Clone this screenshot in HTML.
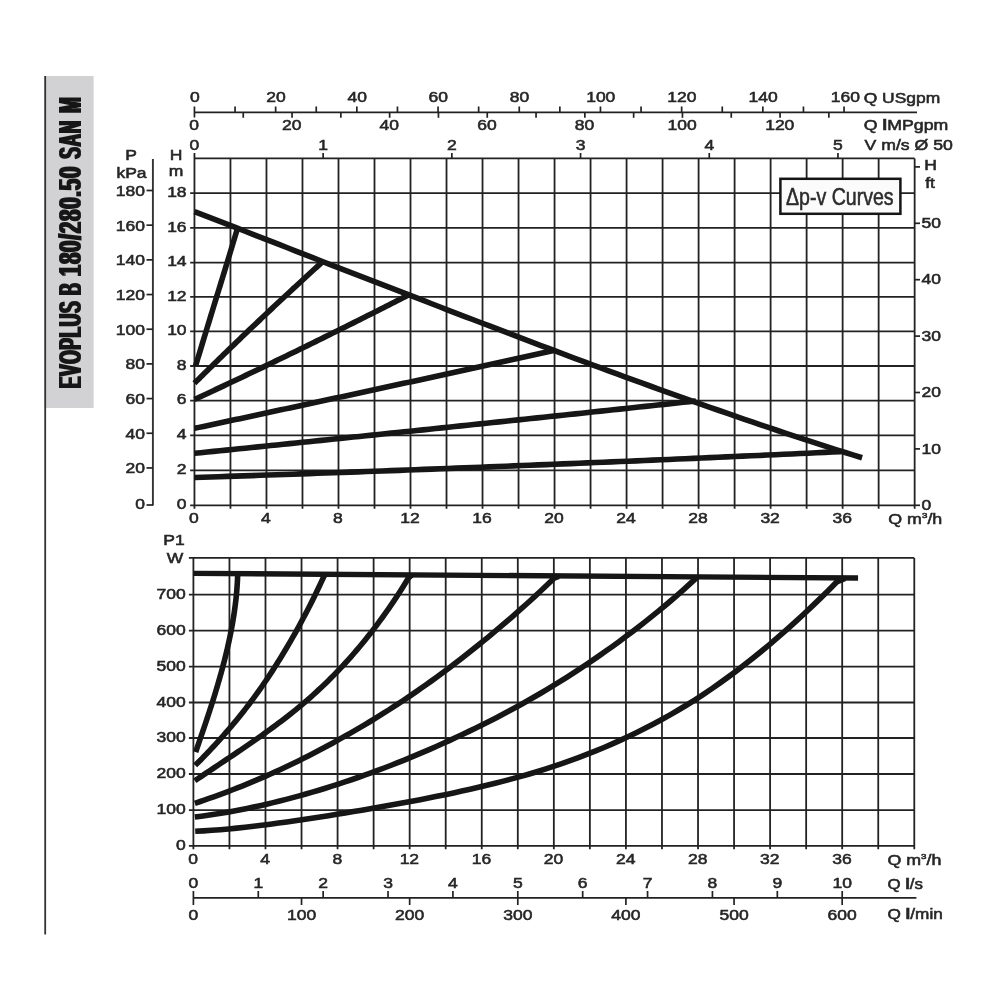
<!DOCTYPE html>
<html><head><meta charset="utf-8"><title>EVOPLUS B 180/280.50 SAN M</title>
<style>
html,body{margin:0;padding:0;background:#fff;}
body{width:1000px;height:1000px;overflow:hidden;}
svg{display:block;font-family:"Liberation Sans",sans-serif;filter:blur(0.45px);}
</style></head><body>
<svg width="1000" height="1000" viewBox="0 0 1000 1000">
<rect width="1000" height="1000" fill="#ffffff"/>
<rect x="44.4" y="76" width="49.2" height="332" fill="#d2d2d4"/>
<line x1="45.20" y1="76.00" x2="45.20" y2="934.50" stroke="#333" stroke-width="1.8" />
<defs><filter id="fat" x="-10%" y="-2%" width="120%" height="104%"><feMorphology operator="dilate" radius="0 1"/></filter></defs>
<g filter="url(#fat)"><text transform="translate(80.8,388.3) rotate(-90)" font-size="31.5" font-weight="bold" fill="#141414" letter-spacing="1.2"><tspan x="0" textLength="87.5" lengthAdjust="spacingAndGlyphs">EVOPLUS</tspan> <tspan x="93.4" textLength="12.4" lengthAdjust="spacingAndGlyphs">B</tspan> <tspan x="112" textLength="110.5" lengthAdjust="spacingAndGlyphs">180/280.50</tspan> <tspan x="229.6" textLength="38.5" lengthAdjust="spacingAndGlyphs">SAN</tspan> <tspan x="275.3" textLength="16.6" lengthAdjust="spacingAndGlyphs">M</tspan></text></g>
<line x1="194.45" y1="152.90" x2="194.45" y2="508.80" stroke="#222222" stroke-width="1.8" />
<line x1="230.46" y1="158.40" x2="230.46" y2="508.80" stroke="#222222" stroke-width="1.8" />
<line x1="266.47" y1="158.40" x2="266.47" y2="508.80" stroke="#222222" stroke-width="1.8" />
<line x1="302.48" y1="158.40" x2="302.48" y2="508.80" stroke="#222222" stroke-width="1.8" />
<line x1="338.49" y1="158.40" x2="338.49" y2="508.80" stroke="#222222" stroke-width="1.8" />
<line x1="374.50" y1="158.40" x2="374.50" y2="508.80" stroke="#222222" stroke-width="1.8" />
<line x1="410.51" y1="158.40" x2="410.51" y2="508.80" stroke="#222222" stroke-width="1.8" />
<line x1="446.52" y1="158.40" x2="446.52" y2="508.80" stroke="#222222" stroke-width="1.8" />
<line x1="482.53" y1="158.40" x2="482.53" y2="508.80" stroke="#222222" stroke-width="1.8" />
<line x1="518.54" y1="158.40" x2="518.54" y2="508.80" stroke="#222222" stroke-width="1.8" />
<line x1="554.55" y1="158.40" x2="554.55" y2="508.80" stroke="#222222" stroke-width="1.8" />
<line x1="590.56" y1="158.40" x2="590.56" y2="508.80" stroke="#222222" stroke-width="1.8" />
<line x1="626.57" y1="158.40" x2="626.57" y2="508.80" stroke="#222222" stroke-width="1.8" />
<line x1="662.58" y1="158.40" x2="662.58" y2="508.80" stroke="#222222" stroke-width="1.8" />
<line x1="698.59" y1="158.40" x2="698.59" y2="508.80" stroke="#222222" stroke-width="1.8" />
<line x1="734.60" y1="158.40" x2="734.60" y2="508.80" stroke="#222222" stroke-width="1.8" />
<line x1="770.61" y1="158.40" x2="770.61" y2="508.80" stroke="#222222" stroke-width="1.8" />
<line x1="806.62" y1="158.40" x2="806.62" y2="508.80" stroke="#222222" stroke-width="1.8" />
<line x1="842.63" y1="158.40" x2="842.63" y2="508.80" stroke="#222222" stroke-width="1.8" />
<line x1="878.64" y1="158.40" x2="878.64" y2="508.80" stroke="#222222" stroke-width="1.8" />
<line x1="914.65" y1="158.40" x2="914.65" y2="508.80" stroke="#222222" stroke-width="1.8" />
<line x1="190.15" y1="505.30" x2="914.65" y2="505.30" stroke="#222222" stroke-width="1.8" />
<line x1="190.15" y1="470.35" x2="914.65" y2="470.35" stroke="#222222" stroke-width="1.8" />
<line x1="190.15" y1="435.40" x2="914.65" y2="435.40" stroke="#222222" stroke-width="1.8" />
<line x1="190.15" y1="400.60" x2="914.65" y2="400.60" stroke="#222222" stroke-width="1.8" />
<line x1="190.15" y1="366.00" x2="914.65" y2="366.00" stroke="#222222" stroke-width="1.8" />
<line x1="190.15" y1="331.35" x2="914.65" y2="331.35" stroke="#222222" stroke-width="1.8" />
<line x1="190.15" y1="296.90" x2="914.65" y2="296.90" stroke="#222222" stroke-width="1.8" />
<line x1="190.15" y1="262.60" x2="914.65" y2="262.60" stroke="#222222" stroke-width="1.8" />
<line x1="190.15" y1="227.80" x2="914.65" y2="227.80" stroke="#222222" stroke-width="1.8" />
<line x1="190.15" y1="193.10" x2="914.65" y2="193.10" stroke="#222222" stroke-width="1.8" />
<line x1="194.45" y1="158.40" x2="914.65" y2="158.40" stroke="#222222" stroke-width="1.8" />
<line x1="193.40" y1="557.90" x2="193.40" y2="849.30" stroke="#222222" stroke-width="1.8" />
<line x1="229.44" y1="557.90" x2="229.44" y2="849.30" stroke="#222222" stroke-width="1.8" />
<line x1="265.49" y1="557.90" x2="265.49" y2="849.30" stroke="#222222" stroke-width="1.8" />
<line x1="301.53" y1="557.90" x2="301.53" y2="849.30" stroke="#222222" stroke-width="1.8" />
<line x1="337.58" y1="557.90" x2="337.58" y2="849.30" stroke="#222222" stroke-width="1.8" />
<line x1="373.62" y1="557.90" x2="373.62" y2="849.30" stroke="#222222" stroke-width="1.8" />
<line x1="409.66" y1="557.90" x2="409.66" y2="849.30" stroke="#222222" stroke-width="1.8" />
<line x1="445.71" y1="557.90" x2="445.71" y2="849.30" stroke="#222222" stroke-width="1.8" />
<line x1="481.75" y1="557.90" x2="481.75" y2="849.30" stroke="#222222" stroke-width="1.8" />
<line x1="517.80" y1="557.90" x2="517.80" y2="849.30" stroke="#222222" stroke-width="1.8" />
<line x1="553.84" y1="557.90" x2="553.84" y2="849.30" stroke="#222222" stroke-width="1.8" />
<line x1="589.88" y1="557.90" x2="589.88" y2="849.30" stroke="#222222" stroke-width="1.8" />
<line x1="625.93" y1="557.90" x2="625.93" y2="849.30" stroke="#222222" stroke-width="1.8" />
<line x1="661.97" y1="557.90" x2="661.97" y2="849.30" stroke="#222222" stroke-width="1.8" />
<line x1="698.02" y1="557.90" x2="698.02" y2="849.30" stroke="#222222" stroke-width="1.8" />
<line x1="734.06" y1="557.90" x2="734.06" y2="849.30" stroke="#222222" stroke-width="1.8" />
<line x1="770.10" y1="557.90" x2="770.10" y2="849.30" stroke="#222222" stroke-width="1.8" />
<line x1="806.15" y1="557.90" x2="806.15" y2="849.30" stroke="#222222" stroke-width="1.8" />
<line x1="842.19" y1="557.90" x2="842.19" y2="849.30" stroke="#222222" stroke-width="1.8" />
<line x1="878.24" y1="557.90" x2="878.24" y2="849.30" stroke="#222222" stroke-width="1.8" />
<line x1="914.28" y1="557.90" x2="914.28" y2="849.30" stroke="#222222" stroke-width="1.8" />
<line x1="188.90" y1="845.80" x2="914.28" y2="845.80" stroke="#222222" stroke-width="1.8" />
<line x1="188.90" y1="810.10" x2="914.28" y2="810.10" stroke="#222222" stroke-width="1.8" />
<line x1="188.90" y1="774.00" x2="914.28" y2="774.00" stroke="#222222" stroke-width="1.8" />
<line x1="188.90" y1="738.00" x2="914.28" y2="738.00" stroke="#222222" stroke-width="1.8" />
<line x1="188.90" y1="702.50" x2="914.28" y2="702.50" stroke="#222222" stroke-width="1.8" />
<line x1="188.90" y1="666.60" x2="914.28" y2="666.60" stroke="#222222" stroke-width="1.8" />
<line x1="188.90" y1="630.60" x2="914.28" y2="630.60" stroke="#222222" stroke-width="1.8" />
<line x1="188.90" y1="594.60" x2="914.28" y2="594.60" stroke="#222222" stroke-width="1.8" />
<line x1="188.90" y1="557.80" x2="914.28" y2="557.80" stroke="#222222" stroke-width="1.8" />
<path d="M194.45,211.63 L202.90,214.88 L211.35,218.14 L219.80,221.41 L228.25,224.68 L236.70,227.96 L245.16,231.25 L253.61,234.54 L262.06,237.84 L270.51,241.15 L278.96,244.45 L287.41,247.76 L295.86,251.07 L304.31,254.38 L312.76,257.70 L321.21,261.01 L329.67,264.31 L338.12,267.58 L346.57,270.85 L355.02,274.12 L363.47,277.38 L371.92,280.65 L380.37,283.92 L388.82,287.18 L397.27,290.45 L405.72,293.71 L414.17,296.97 L422.63,300.23 L431.08,303.50 L439.53,306.76 L447.98,310.02 L456.43,313.27 L464.88,316.52 L473.33,319.76 L481.78,323.00 L490.23,326.23 L498.68,329.45 L507.14,332.68 L515.59,335.91 L524.04,339.13 L532.49,342.34 L540.94,345.55 L549.39,348.74 L557.84,351.93 L566.29,355.11 L574.74,358.27 L583.19,361.43 L591.64,364.58 L600.10,367.71 L608.55,370.83 L617.00,373.94 L625.45,377.04 L633.90,380.12 L642.35,383.19 L650.80,386.25 L659.25,389.30 L667.70,392.33 L676.15,395.34 L684.61,398.35 L693.06,401.34 L701.51,404.33 L709.96,407.30 L718.41,410.26 L726.86,413.20 L735.31,416.12 L743.76,419.03 L752.21,421.92 L760.66,424.79 L769.11,427.64 L777.57,430.47 L786.02,433.29 L794.47,436.08 L802.92,438.87 L811.37,441.64 L819.82,444.38 L828.27,447.11 L836.72,449.81 L845.17,452.49 L853.62,455.15 L862.08,457.79" fill="none" stroke="#161616" stroke-width="5.6" stroke-linejoin="round" stroke-linecap="butt"/>
<path d="M195.53,366.00 L196.06,364.26 L196.59,362.52 L197.12,360.78 L197.65,359.05 L198.17,357.31 L198.70,355.57 L199.23,353.83 L199.76,352.09 L200.29,350.35 L200.82,348.61 L201.35,346.88 L201.88,345.14 L202.40,343.40 L202.93,341.66 L203.46,339.92 L203.99,338.18 L204.52,336.44 L205.05,334.71 L205.58,332.97 L206.11,331.23 L206.63,329.50 L207.16,327.77 L207.69,326.04 L208.22,324.32 L208.75,322.59 L209.28,320.86 L209.81,319.13 L210.34,317.40 L210.86,315.67 L211.39,313.94 L211.92,312.22 L212.45,310.49 L212.98,308.76 L213.51,307.03 L214.04,305.30 L214.57,303.57 L215.09,301.85 L215.62,300.12 L216.15,298.39 L216.68,296.66 L217.21,294.94 L217.74,293.22 L218.27,291.50 L218.80,289.78 L219.32,288.06 L219.85,286.34 L220.38,284.61 L220.91,282.89 L221.44,281.17 L221.97,279.45 L222.50,277.73 L223.03,276.01 L223.55,274.29 L224.08,272.57 L224.61,270.85 L225.14,269.13 L225.67,267.40 L226.20,265.68 L226.73,263.96 L227.26,262.24 L227.78,260.49 L228.31,258.74 L228.84,257.00 L229.37,255.25 L229.90,253.51 L230.43,251.76 L230.96,250.01 L231.49,248.27 L232.01,246.52 L232.54,244.78 L233.07,243.03 L233.60,241.28 L234.13,239.54 L234.66,237.79 L235.19,236.05 L235.72,234.30 L236.24,232.55 L236.77,230.81 L237.30,229.06" fill="none" stroke="#161616" stroke-width="5.6" stroke-linejoin="round" stroke-linecap="butt"/>
<path d="M194.45,383.18 L196.07,381.58 L197.70,379.99 L199.32,378.39 L200.94,376.80 L202.56,375.20 L204.19,373.61 L205.81,372.02 L207.43,370.44 L209.05,368.85 L210.68,367.26 L212.30,365.68 L213.92,364.09 L215.55,362.51 L217.17,360.93 L218.79,359.35 L220.41,357.77 L222.04,356.19 L223.66,354.61 L225.28,353.04 L226.90,351.46 L228.53,349.89 L230.15,348.32 L231.77,346.75 L233.40,345.18 L235.02,343.62 L236.64,342.05 L238.26,340.49 L239.89,338.93 L241.51,337.36 L243.13,335.80 L244.75,334.25 L246.38,332.69 L248.00,331.13 L249.62,329.59 L251.25,328.05 L252.87,326.50 L254.49,324.96 L256.11,323.42 L257.74,321.88 L259.36,320.35 L260.98,318.81 L262.60,317.28 L264.23,315.75 L265.85,314.21 L267.47,312.68 L269.10,311.16 L270.72,309.63 L272.34,308.10 L273.96,306.58 L275.59,305.06 L277.21,303.53 L278.83,302.01 L280.45,300.50 L282.08,298.98 L283.70,297.46 L285.32,295.95 L286.95,294.44 L288.57,292.94 L290.19,291.44 L291.81,289.93 L293.44,288.43 L295.06,286.93 L296.68,285.43 L298.30,283.94 L299.93,282.44 L301.55,280.95 L303.17,279.45 L304.80,277.96 L306.42,276.47 L308.04,274.98 L309.66,273.50 L311.29,272.01 L312.91,270.53 L314.53,269.04 L316.15,267.56 L317.78,266.08 L319.40,264.60 L321.02,263.13 L322.65,261.64" fill="none" stroke="#161616" stroke-width="5.6" stroke-linejoin="round" stroke-linecap="butt"/>
<path d="M194.45,399.47 L197.15,398.22 L199.85,396.96 L202.55,395.71 L205.25,394.45 L207.95,393.19 L210.65,391.93 L213.36,390.67 L216.06,389.40 L218.76,388.14 L221.46,386.87 L224.16,385.60 L226.86,384.33 L229.56,383.05 L232.26,381.78 L234.96,380.50 L237.66,379.22 L240.36,377.94 L243.06,376.66 L245.76,375.38 L248.46,374.09 L251.17,372.81 L253.87,371.52 L256.57,370.23 L259.27,368.94 L261.97,367.64 L264.67,366.35 L267.37,365.05 L270.07,363.75 L272.77,362.45 L275.47,361.14 L278.17,359.84 L280.87,358.53 L283.57,357.22 L286.28,355.91 L288.98,354.59 L291.68,353.28 L294.38,351.96 L297.08,350.65 L299.78,349.33 L302.48,348.00 L305.18,346.68 L307.88,345.36 L310.58,344.03 L313.28,342.70 L315.98,341.37 L318.68,340.04 L321.39,338.70 L324.09,337.37 L326.79,336.03 L329.49,334.69 L332.19,333.35 L334.89,332.01 L337.59,330.67 L340.29,329.33 L342.99,327.99 L345.69,326.65 L348.39,325.31 L351.09,323.96 L353.79,322.62 L356.50,321.27 L359.20,319.92 L361.90,318.57 L364.60,317.21 L367.30,315.86 L370.00,314.50 L372.70,313.14 L375.40,311.78 L378.10,310.42 L380.80,309.06 L383.50,307.69 L386.20,306.32 L388.90,304.95 L391.60,303.58 L394.31,302.21 L397.01,300.84 L399.71,299.46 L402.41,298.08 L405.11,296.71 L407.81,295.33" fill="none" stroke="#161616" stroke-width="5.6" stroke-linejoin="round" stroke-linecap="butt"/>
<path d="M194.45,428.34 L199.00,427.37 L203.54,426.41 L208.09,425.44 L212.64,424.47 L217.18,423.50 L221.73,422.53 L226.28,421.56 L230.82,420.58 L235.37,419.61 L239.92,418.64 L244.47,417.67 L249.01,416.69 L253.56,415.72 L258.11,414.74 L262.65,413.77 L267.20,412.79 L271.75,411.82 L276.29,410.84 L280.84,409.86 L285.39,408.88 L289.93,407.90 L294.48,406.92 L299.03,405.94 L303.57,404.96 L308.12,403.98 L312.67,403.00 L317.21,402.02 L321.76,401.04 L326.31,400.06 L330.85,399.08 L335.40,398.10 L339.95,397.12 L344.50,396.14 L349.04,395.16 L353.59,394.18 L358.14,393.20 L362.68,392.22 L367.23,391.24 L371.78,390.25 L376.32,389.27 L380.87,388.29 L385.42,387.30 L389.96,386.32 L394.51,385.33 L399.06,384.35 L403.60,383.36 L408.15,382.37 L412.70,381.39 L417.24,380.40 L421.79,379.41 L426.34,378.42 L430.89,377.43 L435.43,376.44 L439.98,375.45 L444.53,374.46 L449.07,373.47 L453.62,372.47 L458.17,371.48 L462.71,370.49 L467.26,369.49 L471.81,368.50 L476.35,367.50 L480.90,366.51 L485.45,365.51 L489.99,364.51 L494.54,363.51 L499.09,362.51 L503.63,361.51 L508.18,360.51 L512.73,359.51 L517.28,358.51 L521.82,357.51 L526.37,356.51 L530.92,355.50 L535.46,354.50 L540.01,353.50 L544.56,352.49 L549.10,351.49 L553.65,350.48" fill="none" stroke="#161616" stroke-width="5.6" stroke-linejoin="round" stroke-linecap="butt"/>
<path d="M194.45,453.33 L200.80,452.69 L207.14,452.05 L213.49,451.40 L219.84,450.76 L226.19,450.11 L232.53,449.47 L238.88,448.82 L245.23,448.17 L251.58,447.53 L257.92,446.88 L264.27,446.23 L270.62,445.58 L276.97,444.93 L283.31,444.28 L289.66,443.63 L296.01,442.98 L302.35,442.33 L308.70,441.67 L315.05,441.02 L321.40,440.37 L327.74,439.71 L334.09,439.06 L340.44,438.40 L346.79,437.75 L353.13,437.09 L359.48,436.43 L365.83,435.78 L372.18,435.12 L378.52,434.46 L384.87,433.81 L391.22,433.15 L397.56,432.49 L403.91,431.83 L410.26,431.17 L416.61,430.52 L422.95,429.86 L429.30,429.20 L435.65,428.53 L442.00,427.87 L448.34,427.21 L454.69,426.55 L461.04,425.88 L467.39,425.22 L473.73,424.56 L480.08,423.89 L486.43,423.23 L492.77,422.56 L499.12,421.89 L505.47,421.23 L511.82,420.56 L518.16,419.89 L524.51,419.22 L530.86,418.55 L537.21,417.88 L543.55,417.21 L549.90,416.54 L556.25,415.87 L562.60,415.19 L568.94,414.52 L575.29,413.85 L581.64,413.17 L587.98,412.50 L594.33,411.82 L600.68,411.15 L607.03,410.47 L613.37,409.80 L619.72,409.12 L626.07,408.44 L632.42,407.76 L638.76,407.08 L645.11,406.40 L651.46,405.72 L657.81,405.04 L664.15,404.36 L670.50,403.68 L676.85,403.00 L683.19,402.31 L689.54,401.63 L695.89,400.94" fill="none" stroke="#161616" stroke-width="5.6" stroke-linejoin="round" stroke-linecap="butt"/>
<path d="M194.45,477.50 L202.63,477.23 L210.81,476.96 L219.00,476.69 L227.18,476.42 L235.36,476.14 L243.54,475.87 L251.72,475.59 L259.91,475.31 L268.09,475.03 L276.27,474.74 L284.45,474.46 L292.63,474.18 L300.82,473.89 L309.00,473.60 L317.18,473.31 L325.36,473.02 L333.54,472.72 L341.73,472.43 L349.91,472.13 L358.09,471.84 L366.27,471.54 L374.45,471.24 L382.64,470.94 L390.82,470.63 L399.00,470.33 L407.18,470.02 L415.36,469.71 L423.55,469.40 L431.73,469.09 L439.91,468.78 L448.09,468.47 L456.27,468.15 L464.46,467.83 L472.64,467.52 L480.82,467.20 L489.00,466.87 L497.18,466.55 L505.37,466.23 L513.55,465.90 L521.73,465.57 L529.91,465.24 L538.09,464.91 L546.28,464.58 L554.46,464.25 L562.64,463.91 L570.82,463.58 L579.00,463.24 L587.19,462.90 L595.37,462.56 L603.55,462.22 L611.73,461.87 L619.91,461.53 L628.10,461.18 L636.28,460.83 L644.46,460.48 L652.64,460.13 L660.83,459.78 L669.01,459.43 L677.19,459.07 L685.37,458.71 L693.55,458.35 L701.74,457.99 L709.92,457.63 L718.10,457.27 L726.28,456.91 L734.46,456.54 L742.65,456.17 L750.83,455.80 L759.01,455.43 L767.19,455.06 L775.37,454.69 L783.56,454.31 L791.74,453.93 L799.92,453.56 L808.10,453.18 L816.28,452.80 L824.47,452.41 L832.65,452.03 L840.83,451.64" fill="none" stroke="#161616" stroke-width="5.6" stroke-linejoin="round" stroke-linecap="butt"/>
<path d="M193.40,573.33 L858.05,578.04" fill="none" stroke="#161616" stroke-width="5.4" stroke-linejoin="round" stroke-linecap="butt"/>
<path d="M195.69,752.04 L196.52,749.63 L197.34,747.21 L198.17,744.80 L198.99,742.38 L199.81,739.97 L200.63,737.56 L201.45,735.18 L202.27,732.79 L203.08,730.41 L203.89,728.03 L204.70,725.65 L205.50,723.27 L206.30,720.89 L207.10,718.51 L207.89,716.12 L208.67,713.74 L209.46,711.36 L210.23,708.98 L211.01,706.60 L211.77,704.22 L212.53,701.83 L213.29,699.42 L214.04,697.01 L214.78,694.60 L215.51,692.20 L216.24,689.79 L216.96,687.38 L217.67,684.97 L218.38,682.56 L219.08,680.15 L219.76,677.75 L220.44,675.34 L221.11,672.93 L221.78,670.52 L222.43,668.11 L223.07,665.70 L223.70,663.29 L224.33,660.87 L224.94,658.46 L225.54,656.04 L226.13,653.63 L226.71,651.21 L227.28,648.80 L227.83,646.38 L228.37,643.97 L228.91,641.55 L229.42,639.14 L229.93,636.72 L230.42,634.31 L230.90,631.89 L231.37,629.48 L231.82,627.06 L232.26,624.65 L232.68,622.23 L233.09,619.82 L233.48,617.40 L233.86,614.99 L234.23,612.57 L234.57,610.16 L234.90,607.74 L235.22,605.33 L235.52,602.91 L235.80,600.50 L236.07,598.08 L236.31,595.67 L236.54,593.22 L236.76,590.76 L236.95,588.29 L237.13,585.82 L237.29,583.35 L237.43,580.88 L237.55,578.41 L237.65,575.94 L237.73,574.01" fill="none" stroke="#161616" stroke-width="5.6" stroke-linejoin="round" stroke-linecap="butt"/>
<path d="M195.20,765.38 L197.00,763.59 L198.81,761.79 L200.61,759.97 L202.41,758.13 L204.21,756.28 L206.02,754.41 L207.82,752.52 L209.62,750.61 L211.42,748.69 L213.22,746.75 L215.03,744.79 L216.83,742.81 L218.63,740.81 L220.43,738.79 L222.24,736.77 L224.04,734.74 L225.84,732.69 L227.64,730.61 L229.44,728.52 L231.25,726.40 L233.05,724.26 L234.85,722.10 L236.65,719.91 L238.46,717.70 L240.26,715.47 L242.06,713.21 L243.86,710.93 L245.66,708.62 L247.47,706.29 L249.27,703.93 L251.07,701.53 L252.87,699.09 L254.67,696.63 L256.48,694.13 L258.28,691.61 L260.08,689.06 L261.88,686.48 L263.69,683.87 L265.49,681.23 L267.29,678.56 L269.09,675.85 L270.89,673.12 L272.70,670.36 L274.50,667.56 L276.30,664.73 L278.10,661.86 L279.91,658.96 L281.71,656.03 L283.51,653.06 L285.31,650.05 L287.11,647.02 L288.92,643.94 L290.72,640.84 L292.52,637.69 L294.32,634.51 L296.13,631.29 L297.93,628.04 L299.73,624.75 L301.53,621.42 L303.33,618.05 L305.14,614.64 L306.94,611.20 L308.74,607.71 L310.54,604.19 L312.35,600.62 L314.15,597.02 L315.95,593.34 L317.75,589.57 L319.55,585.76 L321.36,581.90 L323.16,578.00 L324.96,574.63" fill="none" stroke="#161616" stroke-width="5.6" stroke-linejoin="round" stroke-linecap="butt"/>
<path d="M194.84,780.76 L197.73,778.78 L200.62,776.82 L203.51,774.87 L206.40,772.93 L209.29,770.99 L212.18,769.06 L215.07,767.13 L217.96,765.21 L220.86,763.28 L223.75,761.36 L226.64,759.43 L229.53,757.50 L232.42,755.56 L235.31,753.62 L238.20,751.67 L241.09,749.71 L243.98,747.74 L246.87,745.76 L249.76,743.77 L252.65,741.77 L255.54,739.75 L258.43,737.71 L261.32,735.69 L264.21,733.64 L267.10,731.58 L269.99,729.49 L272.88,727.39 L275.77,725.25 L278.66,723.10 L281.55,720.91 L284.44,718.70 L287.33,716.47 L290.22,714.20 L293.11,711.90 L296.00,709.56 L298.89,707.20 L301.79,704.79 L304.68,702.35 L307.57,699.85 L310.46,697.30 L313.35,694.72 L316.24,692.09 L319.13,689.42 L322.02,686.71 L324.91,683.95 L327.80,681.14 L330.69,678.29 L333.58,675.38 L336.47,672.42 L339.36,669.42 L342.25,666.35 L345.14,663.23 L348.03,660.04 L350.92,656.80 L353.81,653.51 L356.70,650.15 L359.59,646.73 L362.48,643.24 L365.37,639.69 L368.26,636.08 L371.15,632.40 L374.04,628.66 L376.93,624.84 L379.83,620.95 L382.72,616.99 L385.61,612.96 L388.50,608.85 L391.39,604.67 L394.28,600.41 L397.17,596.07 L400.06,591.59 L402.95,586.99 L405.84,582.31 L408.73,577.55 L411.62,575.24" fill="none" stroke="#161616" stroke-width="5.6" stroke-linejoin="round" stroke-linecap="butt"/>
<path d="M194.84,803.30 L199.57,801.73 L204.30,800.12 L209.02,798.48 L213.75,796.81 L218.48,795.10 L223.20,793.36 L227.93,791.58 L232.66,789.76 L237.38,787.91 L242.11,786.03 L246.84,784.11 L251.56,782.15 L256.29,780.16 L261.02,778.14 L265.74,776.07 L270.47,773.97 L275.20,771.84 L279.92,769.68 L284.65,767.48 L289.38,765.24 L294.10,762.96 L298.83,760.65 L303.56,758.31 L308.28,755.92 L313.01,753.50 L317.74,751.04 L322.46,748.54 L327.19,746.01 L331.92,743.44 L336.65,740.83 L341.37,738.18 L346.10,735.53 L350.83,732.84 L355.55,730.12 L360.28,727.36 L365.01,724.56 L369.73,721.73 L374.46,718.85 L379.19,715.94 L383.91,712.99 L388.64,710.00 L393.37,706.97 L398.09,703.90 L402.82,700.78 L407.55,697.60 L412.27,694.38 L417.00,691.12 L421.73,687.82 L426.45,684.48 L431.18,681.10 L435.91,677.68 L440.63,674.22 L445.36,670.72 L450.09,667.18 L454.81,663.59 L459.54,659.95 L464.27,656.28 L469.00,652.57 L473.72,648.81 L478.45,645.01 L483.18,641.17 L487.90,637.29 L492.63,633.37 L497.36,629.41 L502.08,625.40 L506.81,621.35 L511.54,617.26 L516.26,613.13 L520.99,608.95 L525.72,604.74 L530.44,600.47 L535.17,596.17 L539.90,591.76 L544.62,587.28 L549.35,582.74 L554.08,578.17 L558.80,576.29" fill="none" stroke="#161616" stroke-width="5.6" stroke-linejoin="round" stroke-linecap="butt"/>
<path d="M194.84,817.03 L201.37,816.19 L207.89,815.28 L214.42,814.31 L220.94,813.26 L227.46,812.16 L233.99,810.99 L240.51,809.75 L247.04,808.45 L253.56,807.08 L260.09,805.65 L266.61,804.17 L273.13,802.62 L279.66,801.02 L286.18,799.36 L292.71,797.64 L299.23,795.87 L305.76,794.05 L312.28,792.17 L318.81,790.23 L325.33,788.24 L331.85,786.20 L338.38,784.11 L344.90,781.96 L351.43,779.76 L357.95,777.51 L364.48,775.21 L371.00,772.85 L377.53,770.45 L384.05,768.00 L390.57,765.50 L397.10,762.94 L403.62,760.33 L410.15,757.67 L416.67,754.96 L423.20,752.19 L429.72,749.37 L436.25,746.50 L442.77,743.57 L449.29,740.59 L455.82,737.55 L462.34,734.50 L468.87,731.40 L475.39,728.24 L481.92,725.02 L488.44,721.74 L494.97,718.40 L501.49,715.01 L508.01,711.55 L514.54,708.03 L521.06,704.45 L527.59,700.79 L534.11,697.04 L540.64,693.22 L547.16,689.34 L553.68,685.39 L560.21,681.36 L566.73,677.27 L573.26,673.10 L579.78,668.86 L586.31,664.53 L592.83,660.12 L599.36,655.63 L605.88,651.06 L612.40,646.41 L618.93,641.67 L625.45,636.85 L631.98,631.94 L638.50,626.94 L645.03,621.84 L651.55,616.66 L658.08,611.37 L664.60,605.99 L671.12,600.51 L677.65,594.92 L684.17,589.11 L690.70,583.19 L697.22,577.27" fill="none" stroke="#161616" stroke-width="5.6" stroke-linejoin="round" stroke-linecap="butt"/>
<path d="M195.20,831.27 L203.53,830.85 L211.86,830.32 L220.20,829.68 L228.53,828.95 L236.86,828.13 L245.19,827.24 L253.52,826.28 L261.85,825.27 L270.18,824.20 L278.51,823.08 L286.85,821.92 L295.18,820.73 L303.51,819.50 L311.84,818.25 L320.17,816.96 L328.50,815.66 L336.83,814.33 L345.16,812.98 L353.49,811.60 L361.83,810.21 L370.16,808.78 L378.49,807.33 L386.82,805.85 L395.15,804.35 L403.48,802.82 L411.81,801.26 L420.14,799.67 L428.48,798.04 L436.81,796.37 L445.14,794.66 L453.47,792.91 L461.80,791.10 L470.13,789.23 L478.46,787.31 L486.79,785.32 L495.12,783.26 L503.46,781.13 L511.79,778.91 L520.12,776.61 L528.45,774.21 L536.78,771.73 L545.11,769.14 L553.44,766.45 L561.77,763.64 L570.11,760.72 L578.44,757.67 L586.77,754.49 L595.10,751.18 L603.43,747.73 L611.76,744.13 L620.09,740.38 L628.42,736.50 L636.75,732.50 L645.09,728.34 L653.42,724.01 L661.75,719.52 L670.08,714.85 L678.41,710.01 L686.74,704.99 L695.07,699.76 L703.40,694.32 L711.74,688.70 L720.07,682.89 L728.40,676.89 L736.73,670.70 L745.06,664.32 L753.39,657.74 L761.72,650.98 L770.05,644.03 L778.38,636.90 L786.72,629.59 L795.05,622.10 L803.38,614.45 L811.71,606.62 L820.04,598.64 L828.37,590.40 L836.70,581.93 L845.03,578.31" fill="none" stroke="#161616" stroke-width="5.6" stroke-linejoin="round" stroke-linecap="butt"/>
<line x1="194.45" y1="112.40" x2="917.00" y2="112.40" stroke="#222222" stroke-width="1.7" />
<line x1="194.45" y1="106.50" x2="194.45" y2="117.50" stroke="#222222" stroke-width="1.7" />
<line x1="235.05" y1="106.50" x2="235.05" y2="112.40" stroke="#222222" stroke-width="1.7" />
<line x1="275.65" y1="106.50" x2="275.65" y2="112.40" stroke="#222222" stroke-width="1.7" />
<line x1="316.25" y1="106.50" x2="316.25" y2="112.40" stroke="#222222" stroke-width="1.7" />
<line x1="356.85" y1="106.50" x2="356.85" y2="112.40" stroke="#222222" stroke-width="1.7" />
<line x1="397.45" y1="106.50" x2="397.45" y2="112.40" stroke="#222222" stroke-width="1.7" />
<line x1="438.05" y1="106.50" x2="438.05" y2="112.40" stroke="#222222" stroke-width="1.7" />
<line x1="478.65" y1="106.50" x2="478.65" y2="112.40" stroke="#222222" stroke-width="1.7" />
<line x1="519.25" y1="106.50" x2="519.25" y2="112.40" stroke="#222222" stroke-width="1.7" />
<line x1="559.85" y1="106.50" x2="559.85" y2="112.40" stroke="#222222" stroke-width="1.7" />
<line x1="600.45" y1="106.50" x2="600.45" y2="112.40" stroke="#222222" stroke-width="1.7" />
<line x1="641.05" y1="106.50" x2="641.05" y2="112.40" stroke="#222222" stroke-width="1.7" />
<line x1="681.65" y1="106.50" x2="681.65" y2="112.40" stroke="#222222" stroke-width="1.7" />
<line x1="722.25" y1="106.50" x2="722.25" y2="112.40" stroke="#222222" stroke-width="1.7" />
<line x1="762.85" y1="106.50" x2="762.85" y2="112.40" stroke="#222222" stroke-width="1.7" />
<line x1="803.45" y1="106.50" x2="803.45" y2="112.40" stroke="#222222" stroke-width="1.7" />
<line x1="844.05" y1="106.50" x2="844.05" y2="112.40" stroke="#222222" stroke-width="1.7" />
<line x1="243.25" y1="112.40" x2="243.25" y2="117.80" stroke="#222222" stroke-width="1.7" />
<line x1="292.05" y1="112.40" x2="292.05" y2="117.80" stroke="#222222" stroke-width="1.7" />
<line x1="340.85" y1="112.40" x2="340.85" y2="117.80" stroke="#222222" stroke-width="1.7" />
<line x1="389.65" y1="112.40" x2="389.65" y2="117.80" stroke="#222222" stroke-width="1.7" />
<line x1="438.45" y1="112.40" x2="438.45" y2="117.80" stroke="#222222" stroke-width="1.7" />
<line x1="487.25" y1="112.40" x2="487.25" y2="117.80" stroke="#222222" stroke-width="1.7" />
<line x1="536.05" y1="112.40" x2="536.05" y2="117.80" stroke="#222222" stroke-width="1.7" />
<line x1="584.85" y1="112.40" x2="584.85" y2="117.80" stroke="#222222" stroke-width="1.7" />
<line x1="633.65" y1="112.40" x2="633.65" y2="117.80" stroke="#222222" stroke-width="1.7" />
<line x1="682.45" y1="112.40" x2="682.45" y2="117.80" stroke="#222222" stroke-width="1.7" />
<line x1="731.25" y1="112.40" x2="731.25" y2="117.80" stroke="#222222" stroke-width="1.7" />
<line x1="780.05" y1="112.40" x2="780.05" y2="117.80" stroke="#222222" stroke-width="1.7" />
<line x1="828.85" y1="112.40" x2="828.85" y2="117.80" stroke="#222222" stroke-width="1.7" />
<text transform="translate(194.75,102.10) scale(1.2,1)" text-anchor="middle" font-size="14.6" fill="#262626" stroke="#262626" stroke-width="0.55" font-weight="normal" >0</text>
<text transform="translate(275.95,102.10) scale(1.2,1)" text-anchor="middle" font-size="14.6" fill="#262626" stroke="#262626" stroke-width="0.55" font-weight="normal" >20</text>
<text transform="translate(357.15,102.10) scale(1.2,1)" text-anchor="middle" font-size="14.6" fill="#262626" stroke="#262626" stroke-width="0.55" font-weight="normal" >40</text>
<text transform="translate(438.35,102.10) scale(1.2,1)" text-anchor="middle" font-size="14.6" fill="#262626" stroke="#262626" stroke-width="0.55" font-weight="normal" >60</text>
<text transform="translate(519.55,102.10) scale(1.2,1)" text-anchor="middle" font-size="14.6" fill="#262626" stroke="#262626" stroke-width="0.55" font-weight="normal" >80</text>
<text transform="translate(600.75,102.10) scale(1.2,1)" text-anchor="middle" font-size="14.6" fill="#262626" stroke="#262626" stroke-width="0.55" font-weight="normal" >100</text>
<text transform="translate(681.95,102.10) scale(1.2,1)" text-anchor="middle" font-size="14.6" fill="#262626" stroke="#262626" stroke-width="0.55" font-weight="normal" >120</text>
<text transform="translate(763.15,102.10) scale(1.2,1)" text-anchor="middle" font-size="14.6" fill="#262626" stroke="#262626" stroke-width="0.55" font-weight="normal" >140</text>
<text transform="translate(845.35,102.10) scale(1.2,1)" text-anchor="middle" font-size="14.6" fill="#262626" stroke="#262626" stroke-width="0.55" font-weight="normal" >160</text>
<text transform="translate(194.15,130.10) scale(1.2,1)" text-anchor="middle" font-size="14.6" fill="#262626" stroke="#262626" stroke-width="0.55" font-weight="normal" >0</text>
<text transform="translate(291.75,130.10) scale(1.2,1)" text-anchor="middle" font-size="14.6" fill="#262626" stroke="#262626" stroke-width="0.55" font-weight="normal" >20</text>
<text transform="translate(389.35,130.10) scale(1.2,1)" text-anchor="middle" font-size="14.6" fill="#262626" stroke="#262626" stroke-width="0.55" font-weight="normal" >40</text>
<text transform="translate(486.95,130.10) scale(1.2,1)" text-anchor="middle" font-size="14.6" fill="#262626" stroke="#262626" stroke-width="0.55" font-weight="normal" >60</text>
<text transform="translate(584.55,130.10) scale(1.2,1)" text-anchor="middle" font-size="14.6" fill="#262626" stroke="#262626" stroke-width="0.55" font-weight="normal" >80</text>
<text transform="translate(682.15,130.10) scale(1.2,1)" text-anchor="middle" font-size="14.6" fill="#262626" stroke="#262626" stroke-width="0.55" font-weight="normal" >100</text>
<text transform="translate(779.75,130.10) scale(1.2,1)" text-anchor="middle" font-size="14.6" fill="#262626" stroke="#262626" stroke-width="0.55" font-weight="normal" >120</text>
<text transform="translate(194.45,149.60) scale(1.2,1)" text-anchor="middle" font-size="14.6" fill="#262626" stroke="#262626" stroke-width="0.55" font-weight="normal" >0</text>
<text transform="translate(323.15,149.60) scale(1.2,1)" text-anchor="middle" font-size="14.6" fill="#262626" stroke="#262626" stroke-width="0.55" font-weight="normal" >1</text>
<line x1="323.15" y1="153.00" x2="323.15" y2="158.40" stroke="#222222" stroke-width="1.7" />
<text transform="translate(451.85,149.60) scale(1.2,1)" text-anchor="middle" font-size="14.6" fill="#262626" stroke="#262626" stroke-width="0.55" font-weight="normal" >2</text>
<line x1="451.85" y1="153.00" x2="451.85" y2="158.40" stroke="#222222" stroke-width="1.7" />
<text transform="translate(580.55,149.60) scale(1.2,1)" text-anchor="middle" font-size="14.6" fill="#262626" stroke="#262626" stroke-width="0.55" font-weight="normal" >3</text>
<line x1="580.55" y1="153.00" x2="580.55" y2="158.40" stroke="#222222" stroke-width="1.7" />
<text transform="translate(709.25,149.60) scale(1.2,1)" text-anchor="middle" font-size="14.6" fill="#262626" stroke="#262626" stroke-width="0.55" font-weight="normal" >4</text>
<line x1="709.25" y1="153.00" x2="709.25" y2="158.40" stroke="#222222" stroke-width="1.7" />
<text transform="translate(837.95,149.60) scale(1.2,1)" text-anchor="middle" font-size="14.6" fill="#262626" stroke="#262626" stroke-width="0.55" font-weight="normal" >5</text>
<line x1="837.95" y1="153.00" x2="837.95" y2="158.40" stroke="#222222" stroke-width="1.7" />
<text x="863.70" y="102.50" textLength="76.50" lengthAdjust="spacingAndGlyphs" font-size="14.6" fill="#262626" stroke="#262626" stroke-width="0.55" font-weight="normal">Q USgpm</text>
<text x="863.70" y="130.40" textLength="84.60" lengthAdjust="spacingAndGlyphs" font-size="14.6" fill="#262626" stroke="#262626" stroke-width="0.55" font-weight="normal">Q <tspan font-weight="bold">l</tspan>MPgpm</text>
<text x="864.60" y="149.80" textLength="88.20" lengthAdjust="spacingAndGlyphs" font-size="14.6" fill="#262626" stroke="#262626" stroke-width="0.55" font-weight="normal">V m/s Ø 50</text>
<line x1="152.90" y1="159.00" x2="152.90" y2="505.60" stroke="#333" stroke-width="1.9" />
<line x1="146.50" y1="505.00" x2="153.00" y2="505.00" stroke="#222222" stroke-width="1.7" />
<text transform="translate(145.00,509.30) scale(1.2,1)" text-anchor="end" font-size="14.6" fill="#262626" stroke="#262626" stroke-width="0.55" font-weight="normal" >0</text>
<line x1="146.50" y1="467.94" x2="153.00" y2="467.94" stroke="#222222" stroke-width="1.7" />
<text transform="translate(145.00,473.44) scale(1.2,1)" text-anchor="end" font-size="14.6" fill="#262626" stroke="#262626" stroke-width="0.55" font-weight="normal" >20</text>
<line x1="146.50" y1="433.26" x2="153.00" y2="433.26" stroke="#222222" stroke-width="1.7" />
<text transform="translate(145.00,438.76) scale(1.2,1)" text-anchor="end" font-size="14.6" fill="#262626" stroke="#262626" stroke-width="0.55" font-weight="normal" >40</text>
<line x1="146.50" y1="398.58" x2="153.00" y2="398.58" stroke="#222222" stroke-width="1.7" />
<text transform="translate(145.00,404.08) scale(1.2,1)" text-anchor="end" font-size="14.6" fill="#262626" stroke="#262626" stroke-width="0.55" font-weight="normal" >60</text>
<line x1="146.50" y1="363.90" x2="153.00" y2="363.90" stroke="#222222" stroke-width="1.7" />
<text transform="translate(145.00,369.40) scale(1.2,1)" text-anchor="end" font-size="14.6" fill="#262626" stroke="#262626" stroke-width="0.55" font-weight="normal" >80</text>
<line x1="146.50" y1="329.22" x2="153.00" y2="329.22" stroke="#222222" stroke-width="1.7" />
<text transform="translate(145.00,334.72) scale(1.2,1)" text-anchor="end" font-size="14.6" fill="#262626" stroke="#262626" stroke-width="0.55" font-weight="normal" >100</text>
<line x1="146.50" y1="294.54" x2="153.00" y2="294.54" stroke="#222222" stroke-width="1.7" />
<text transform="translate(145.00,300.04) scale(1.2,1)" text-anchor="end" font-size="14.6" fill="#262626" stroke="#262626" stroke-width="0.55" font-weight="normal" >120</text>
<line x1="146.50" y1="259.86" x2="153.00" y2="259.86" stroke="#222222" stroke-width="1.7" />
<text transform="translate(145.00,265.36) scale(1.2,1)" text-anchor="end" font-size="14.6" fill="#262626" stroke="#262626" stroke-width="0.55" font-weight="normal" >140</text>
<line x1="146.50" y1="225.18" x2="153.00" y2="225.18" stroke="#222222" stroke-width="1.7" />
<text transform="translate(145.00,230.68) scale(1.2,1)" text-anchor="end" font-size="14.6" fill="#262626" stroke="#262626" stroke-width="0.55" font-weight="normal" >160</text>
<line x1="146.50" y1="190.50" x2="153.00" y2="190.50" stroke="#222222" stroke-width="1.7" />
<text transform="translate(145.00,196.00) scale(1.2,1)" text-anchor="end" font-size="14.6" fill="#262626" stroke="#262626" stroke-width="0.55" font-weight="normal" >180</text>
<text transform="translate(131.00,160.30) scale(1.2,1)" text-anchor="middle" font-size="14.6" fill="#262626" stroke="#262626" stroke-width="0.55" font-weight="normal" >P</text>
<text transform="translate(131.50,178.00) scale(1.2,1)" text-anchor="middle" font-size="14.6" fill="#262626" stroke="#262626" stroke-width="0.55" font-weight="normal" >kPa</text>
<text transform="translate(176.00,160.00) scale(1.2,1)" text-anchor="middle" font-size="14.6" fill="#262626" stroke="#262626" stroke-width="0.55" font-weight="normal" >H</text>
<text transform="translate(176.00,176.40) scale(1.2,1)" text-anchor="middle" font-size="14.6" fill="#262626" stroke="#262626" stroke-width="0.55" font-weight="normal" >m</text>
<text transform="translate(186.60,509.00) scale(1.2,1)" text-anchor="end" font-size="14.6" fill="#262626" stroke="#262626" stroke-width="0.55" font-weight="normal" >0</text>
<text transform="translate(186.60,474.05) scale(1.2,1)" text-anchor="end" font-size="14.6" fill="#262626" stroke="#262626" stroke-width="0.55" font-weight="normal" >2</text>
<text transform="translate(186.60,439.10) scale(1.2,1)" text-anchor="end" font-size="14.6" fill="#262626" stroke="#262626" stroke-width="0.55" font-weight="normal" >4</text>
<text transform="translate(186.60,404.30) scale(1.2,1)" text-anchor="end" font-size="14.6" fill="#262626" stroke="#262626" stroke-width="0.55" font-weight="normal" >6</text>
<text transform="translate(186.60,369.70) scale(1.2,1)" text-anchor="end" font-size="14.6" fill="#262626" stroke="#262626" stroke-width="0.55" font-weight="normal" >8</text>
<text transform="translate(186.60,335.05) scale(1.2,1)" text-anchor="end" font-size="14.6" fill="#262626" stroke="#262626" stroke-width="0.55" font-weight="normal" >10</text>
<text transform="translate(186.60,300.60) scale(1.2,1)" text-anchor="end" font-size="14.6" fill="#262626" stroke="#262626" stroke-width="0.55" font-weight="normal" >12</text>
<text transform="translate(186.60,266.30) scale(1.2,1)" text-anchor="end" font-size="14.6" fill="#262626" stroke="#262626" stroke-width="0.55" font-weight="normal" >14</text>
<text transform="translate(186.60,231.50) scale(1.2,1)" text-anchor="end" font-size="14.6" fill="#262626" stroke="#262626" stroke-width="0.55" font-weight="normal" >16</text>
<text transform="translate(186.60,196.80) scale(1.2,1)" text-anchor="end" font-size="14.6" fill="#262626" stroke="#262626" stroke-width="0.55" font-weight="normal" >18</text>
<text transform="translate(193.95,523.00) scale(1.2,1)" text-anchor="middle" font-size="14.6" fill="#262626" stroke="#262626" stroke-width="0.55" font-weight="normal" >0</text>
<text transform="translate(265.97,523.00) scale(1.2,1)" text-anchor="middle" font-size="14.6" fill="#262626" stroke="#262626" stroke-width="0.55" font-weight="normal" >4</text>
<text transform="translate(337.99,523.00) scale(1.2,1)" text-anchor="middle" font-size="14.6" fill="#262626" stroke="#262626" stroke-width="0.55" font-weight="normal" >8</text>
<text transform="translate(410.01,523.00) scale(1.2,1)" text-anchor="middle" font-size="14.6" fill="#262626" stroke="#262626" stroke-width="0.55" font-weight="normal" >12</text>
<text transform="translate(482.03,523.00) scale(1.2,1)" text-anchor="middle" font-size="14.6" fill="#262626" stroke="#262626" stroke-width="0.55" font-weight="normal" >16</text>
<text transform="translate(554.05,523.00) scale(1.2,1)" text-anchor="middle" font-size="14.6" fill="#262626" stroke="#262626" stroke-width="0.55" font-weight="normal" >20</text>
<text transform="translate(626.07,523.00) scale(1.2,1)" text-anchor="middle" font-size="14.6" fill="#262626" stroke="#262626" stroke-width="0.55" font-weight="normal" >24</text>
<text transform="translate(698.09,523.00) scale(1.2,1)" text-anchor="middle" font-size="14.6" fill="#262626" stroke="#262626" stroke-width="0.55" font-weight="normal" >28</text>
<text transform="translate(770.11,523.00) scale(1.2,1)" text-anchor="middle" font-size="14.6" fill="#262626" stroke="#262626" stroke-width="0.55" font-weight="normal" >32</text>
<text transform="translate(842.13,523.00) scale(1.2,1)" text-anchor="middle" font-size="14.6" fill="#262626" stroke="#262626" stroke-width="0.55" font-weight="normal" >36</text>
<text x="888.30" y="523.60" textLength="54.00" lengthAdjust="spacingAndGlyphs" font-size="14.6" fill="#262626" stroke="#262626" stroke-width="0.55" font-weight="normal">Q m<tspan font-size="8" dy="-5.5">3</tspan><tspan dy="5.5">/h</tspan></text>
<line x1="914.65" y1="505.30" x2="920.00" y2="505.30" stroke="#222222" stroke-width="1.7" />
<text transform="translate(921.50,509.90) scale(1.2,1)" text-anchor="start" font-size="14.6" fill="#262626" stroke="#262626" stroke-width="0.55" font-weight="normal" >0</text>
<line x1="914.65" y1="448.90" x2="920.00" y2="448.90" stroke="#222222" stroke-width="1.7" />
<text transform="translate(921.50,453.50) scale(1.2,1)" text-anchor="start" font-size="14.6" fill="#262626" stroke="#262626" stroke-width="0.55" font-weight="normal" >10</text>
<line x1="914.65" y1="392.50" x2="920.00" y2="392.50" stroke="#222222" stroke-width="1.7" />
<text transform="translate(921.50,397.10) scale(1.2,1)" text-anchor="start" font-size="14.6" fill="#262626" stroke="#262626" stroke-width="0.55" font-weight="normal" >20</text>
<line x1="914.65" y1="336.10" x2="920.00" y2="336.10" stroke="#222222" stroke-width="1.7" />
<text transform="translate(921.50,340.70) scale(1.2,1)" text-anchor="start" font-size="14.6" fill="#262626" stroke="#262626" stroke-width="0.55" font-weight="normal" >30</text>
<line x1="914.65" y1="279.70" x2="920.00" y2="279.70" stroke="#222222" stroke-width="1.7" />
<text transform="translate(921.50,284.30) scale(1.2,1)" text-anchor="start" font-size="14.6" fill="#262626" stroke="#262626" stroke-width="0.55" font-weight="normal" >40</text>
<line x1="914.65" y1="223.30" x2="920.00" y2="223.30" stroke="#222222" stroke-width="1.7" />
<text transform="translate(921.50,227.90) scale(1.2,1)" text-anchor="start" font-size="14.6" fill="#262626" stroke="#262626" stroke-width="0.55" font-weight="normal" >50</text>
<line x1="914.65" y1="166.90" x2="920.00" y2="166.90" stroke="#222222" stroke-width="1.7" />
<text transform="translate(930.50,170.00) scale(1.2,1)" text-anchor="middle" font-size="14.6" fill="#262626" stroke="#262626" stroke-width="0.55" font-weight="normal" >H</text>
<text transform="translate(930.00,187.50) scale(1.2,1)" text-anchor="middle" font-size="14.6" fill="#262626" stroke="#262626" stroke-width="0.55" font-weight="normal" >ft</text>
<rect x="780.4" y="178.8" width="120" height="35" fill="#fbfbfb" stroke="#151515" stroke-width="2.5"/>
<text x="786.00" y="205.30" textLength="107.60" lengthAdjust="spacingAndGlyphs" font-size="23" fill="#2c2c2c" stroke="#2c2c2c" stroke-width="0.55" font-weight="normal">Δp-v Curves</text>
<text transform="translate(174.00,545.40) scale(1.2,1)" text-anchor="middle" font-size="14.6" fill="#262626" stroke="#262626" stroke-width="0.55" font-weight="normal" >P1</text>
<text transform="translate(175.00,563.20) scale(1.2,1)" text-anchor="middle" font-size="14.6" fill="#262626" stroke="#262626" stroke-width="0.55" font-weight="normal" >W</text>
<text transform="translate(185.80,850.00) scale(1.2,1)" text-anchor="end" font-size="14.6" fill="#262626" stroke="#262626" stroke-width="0.55" font-weight="normal" >0</text>
<text transform="translate(185.80,814.30) scale(1.2,1)" text-anchor="end" font-size="14.6" fill="#262626" stroke="#262626" stroke-width="0.55" font-weight="normal" >100</text>
<text transform="translate(185.80,778.20) scale(1.2,1)" text-anchor="end" font-size="14.6" fill="#262626" stroke="#262626" stroke-width="0.55" font-weight="normal" >200</text>
<text transform="translate(185.80,742.20) scale(1.2,1)" text-anchor="end" font-size="14.6" fill="#262626" stroke="#262626" stroke-width="0.55" font-weight="normal" >300</text>
<text transform="translate(185.80,706.70) scale(1.2,1)" text-anchor="end" font-size="14.6" fill="#262626" stroke="#262626" stroke-width="0.55" font-weight="normal" >400</text>
<text transform="translate(185.80,670.80) scale(1.2,1)" text-anchor="end" font-size="14.6" fill="#262626" stroke="#262626" stroke-width="0.55" font-weight="normal" >500</text>
<text transform="translate(185.80,634.80) scale(1.2,1)" text-anchor="end" font-size="14.6" fill="#262626" stroke="#262626" stroke-width="0.55" font-weight="normal" >600</text>
<text transform="translate(185.80,598.80) scale(1.2,1)" text-anchor="end" font-size="14.6" fill="#262626" stroke="#262626" stroke-width="0.55" font-weight="normal" >700</text>
<text transform="translate(193.10,864.00) scale(1.2,1)" text-anchor="middle" font-size="14.6" fill="#262626" stroke="#262626" stroke-width="0.55" font-weight="normal" >0</text>
<text transform="translate(265.19,864.00) scale(1.2,1)" text-anchor="middle" font-size="14.6" fill="#262626" stroke="#262626" stroke-width="0.55" font-weight="normal" >4</text>
<text transform="translate(337.28,864.00) scale(1.2,1)" text-anchor="middle" font-size="14.6" fill="#262626" stroke="#262626" stroke-width="0.55" font-weight="normal" >8</text>
<text transform="translate(409.36,864.00) scale(1.2,1)" text-anchor="middle" font-size="14.6" fill="#262626" stroke="#262626" stroke-width="0.55" font-weight="normal" >12</text>
<text transform="translate(481.45,864.00) scale(1.2,1)" text-anchor="middle" font-size="14.6" fill="#262626" stroke="#262626" stroke-width="0.55" font-weight="normal" >16</text>
<text transform="translate(553.54,864.00) scale(1.2,1)" text-anchor="middle" font-size="14.6" fill="#262626" stroke="#262626" stroke-width="0.55" font-weight="normal" >20</text>
<text transform="translate(625.63,864.00) scale(1.2,1)" text-anchor="middle" font-size="14.6" fill="#262626" stroke="#262626" stroke-width="0.55" font-weight="normal" >24</text>
<text transform="translate(697.72,864.00) scale(1.2,1)" text-anchor="middle" font-size="14.6" fill="#262626" stroke="#262626" stroke-width="0.55" font-weight="normal" >28</text>
<text transform="translate(769.80,864.00) scale(1.2,1)" text-anchor="middle" font-size="14.6" fill="#262626" stroke="#262626" stroke-width="0.55" font-weight="normal" >32</text>
<text transform="translate(841.89,864.00) scale(1.2,1)" text-anchor="middle" font-size="14.6" fill="#262626" stroke="#262626" stroke-width="0.55" font-weight="normal" >36</text>
<text x="887.40" y="864.80" textLength="54.00" lengthAdjust="spacingAndGlyphs" font-size="14.6" fill="#262626" stroke="#262626" stroke-width="0.55" font-weight="normal">Q m<tspan font-size="8" dy="-5.5">3</tspan><tspan dy="5.5">/h</tspan></text>
<line x1="193.40" y1="897.80" x2="916.40" y2="897.80" stroke="#222222" stroke-width="1.7" />
<line x1="193.40" y1="891.00" x2="193.40" y2="905.00" stroke="#222222" stroke-width="1.7" />
<text transform="translate(193.40,888.00) scale(1.2,1)" text-anchor="middle" font-size="14.6" fill="#262626" stroke="#262626" stroke-width="0.55" font-weight="normal" >0</text>
<line x1="258.28" y1="891.00" x2="258.28" y2="897.80" stroke="#222222" stroke-width="1.7" />
<text transform="translate(258.28,888.00) scale(1.2,1)" text-anchor="middle" font-size="14.6" fill="#262626" stroke="#262626" stroke-width="0.55" font-weight="normal" >1</text>
<line x1="323.16" y1="891.00" x2="323.16" y2="897.80" stroke="#222222" stroke-width="1.7" />
<text transform="translate(323.16,888.00) scale(1.2,1)" text-anchor="middle" font-size="14.6" fill="#262626" stroke="#262626" stroke-width="0.55" font-weight="normal" >2</text>
<line x1="388.04" y1="891.00" x2="388.04" y2="897.80" stroke="#222222" stroke-width="1.7" />
<text transform="translate(388.04,888.00) scale(1.2,1)" text-anchor="middle" font-size="14.6" fill="#262626" stroke="#262626" stroke-width="0.55" font-weight="normal" >3</text>
<line x1="452.92" y1="891.00" x2="452.92" y2="897.80" stroke="#222222" stroke-width="1.7" />
<text transform="translate(452.92,888.00) scale(1.2,1)" text-anchor="middle" font-size="14.6" fill="#262626" stroke="#262626" stroke-width="0.55" font-weight="normal" >4</text>
<line x1="517.80" y1="891.00" x2="517.80" y2="897.80" stroke="#222222" stroke-width="1.7" />
<text transform="translate(517.80,888.00) scale(1.2,1)" text-anchor="middle" font-size="14.6" fill="#262626" stroke="#262626" stroke-width="0.55" font-weight="normal" >5</text>
<line x1="582.68" y1="891.00" x2="582.68" y2="897.80" stroke="#222222" stroke-width="1.7" />
<text transform="translate(582.68,888.00) scale(1.2,1)" text-anchor="middle" font-size="14.6" fill="#262626" stroke="#262626" stroke-width="0.55" font-weight="normal" >6</text>
<line x1="647.56" y1="891.00" x2="647.56" y2="897.80" stroke="#222222" stroke-width="1.7" />
<text transform="translate(647.56,888.00) scale(1.2,1)" text-anchor="middle" font-size="14.6" fill="#262626" stroke="#262626" stroke-width="0.55" font-weight="normal" >7</text>
<line x1="712.44" y1="891.00" x2="712.44" y2="897.80" stroke="#222222" stroke-width="1.7" />
<text transform="translate(712.44,888.00) scale(1.2,1)" text-anchor="middle" font-size="14.6" fill="#262626" stroke="#262626" stroke-width="0.55" font-weight="normal" >8</text>
<line x1="777.32" y1="891.00" x2="777.32" y2="897.80" stroke="#222222" stroke-width="1.7" />
<text transform="translate(777.32,888.00) scale(1.2,1)" text-anchor="middle" font-size="14.6" fill="#262626" stroke="#262626" stroke-width="0.55" font-weight="normal" >9</text>
<line x1="842.20" y1="891.00" x2="842.20" y2="897.80" stroke="#222222" stroke-width="1.7" />
<text transform="translate(842.20,888.00) scale(1.2,1)" text-anchor="middle" font-size="14.6" fill="#262626" stroke="#262626" stroke-width="0.55" font-weight="normal" >10</text>
<text transform="translate(193.40,919.50) scale(1.2,1)" text-anchor="middle" font-size="14.6" fill="#262626" stroke="#262626" stroke-width="0.55" font-weight="normal" >0</text>
<line x1="301.53" y1="897.80" x2="301.53" y2="905.00" stroke="#222222" stroke-width="1.7" />
<text transform="translate(301.53,919.50) scale(1.2,1)" text-anchor="middle" font-size="14.6" fill="#262626" stroke="#262626" stroke-width="0.55" font-weight="normal" >100</text>
<line x1="409.66" y1="897.80" x2="409.66" y2="905.00" stroke="#222222" stroke-width="1.7" />
<text transform="translate(409.66,919.50) scale(1.2,1)" text-anchor="middle" font-size="14.6" fill="#262626" stroke="#262626" stroke-width="0.55" font-weight="normal" >200</text>
<line x1="517.79" y1="897.80" x2="517.79" y2="905.00" stroke="#222222" stroke-width="1.7" />
<text transform="translate(517.79,919.50) scale(1.2,1)" text-anchor="middle" font-size="14.6" fill="#262626" stroke="#262626" stroke-width="0.55" font-weight="normal" >300</text>
<line x1="625.92" y1="897.80" x2="625.92" y2="905.00" stroke="#222222" stroke-width="1.7" />
<text transform="translate(625.92,919.50) scale(1.2,1)" text-anchor="middle" font-size="14.6" fill="#262626" stroke="#262626" stroke-width="0.55" font-weight="normal" >400</text>
<line x1="734.05" y1="897.80" x2="734.05" y2="905.00" stroke="#222222" stroke-width="1.7" />
<text transform="translate(734.05,919.50) scale(1.2,1)" text-anchor="middle" font-size="14.6" fill="#262626" stroke="#262626" stroke-width="0.55" font-weight="normal" >500</text>
<line x1="842.18" y1="897.80" x2="842.18" y2="905.00" stroke="#222222" stroke-width="1.7" />
<text transform="translate(842.18,919.50) scale(1.2,1)" text-anchor="middle" font-size="14.6" fill="#262626" stroke="#262626" stroke-width="0.55" font-weight="normal" >600</text>
<text x="887.40" y="888.60" textLength="35.60" lengthAdjust="spacingAndGlyphs" font-size="14.6" fill="#262626" stroke="#262626" stroke-width="0.55" font-weight="normal">Q <tspan font-weight="bold">l</tspan>/s</text>
<text x="887.40" y="919.00" textLength="55.40" lengthAdjust="spacingAndGlyphs" font-size="14.6" fill="#262626" stroke="#262626" stroke-width="0.55" font-weight="normal">Q <tspan font-weight="bold">l</tspan>/min</text>
</svg>
</body></html>
